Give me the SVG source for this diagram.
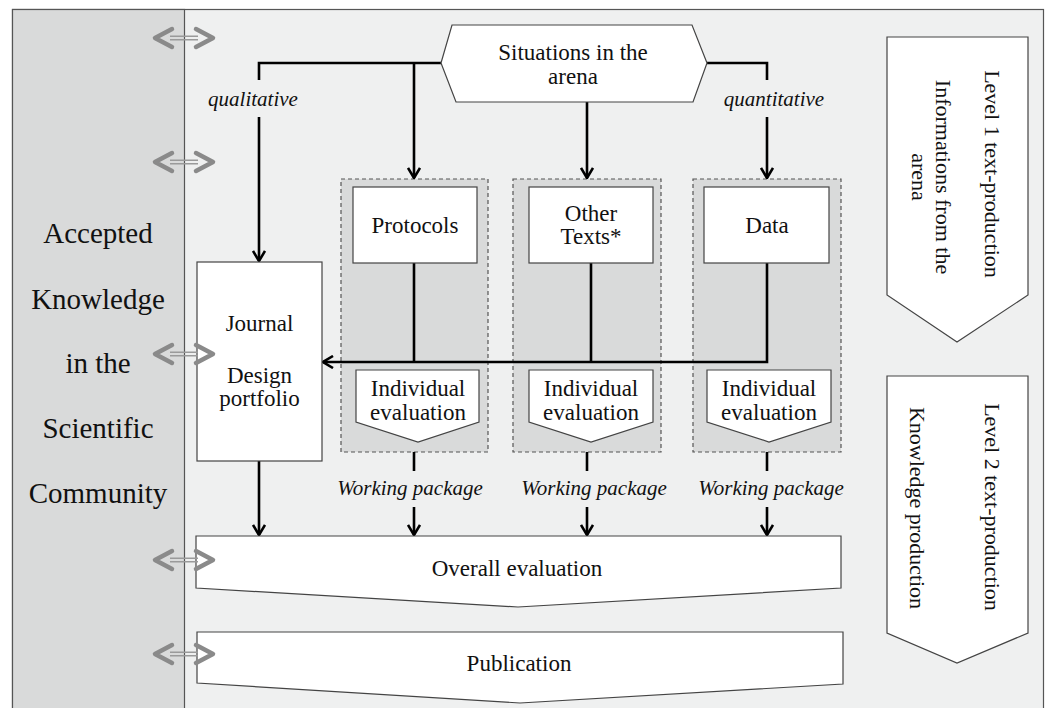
<svg xmlns="http://www.w3.org/2000/svg" width="1049" height="708" viewBox="0 0 1049 708">
<style>
.t{font-family:"Liberation Serif","Times New Roman",serif;font-size:23px;fill:#111;text-anchor:middle}
.it{font-family:"Liberation Serif","Times New Roman",serif;font-size:21px;font-style:italic;fill:#111;text-anchor:middle}
.big{font-family:"Liberation Serif","Times New Roman",serif;font-size:29px;fill:#111;text-anchor:middle}
.rt{font-family:"Liberation Serif","Times New Roman",serif;font-size:22px;fill:#111;text-anchor:middle}
.box{fill:#fff;stroke:#444;stroke-width:1.2}
.dash{fill:#d9dada;stroke:#555;stroke-width:1.2;stroke-dasharray:4 3}
.con{fill:none;stroke:#000;stroke-width:2.6}
.arr{marker-end:url(#ah)}
.dbl-l{fill:none;stroke:#9a9a9a;stroke-width:1.4}
.dbl-c{fill:none;stroke:#8a8a8a;stroke-width:4.5;stroke-linecap:round;stroke-linejoin:round}
</style>
<defs>
<marker id="ah" viewBox="0 0 12 14" refX="11" refY="7" markerWidth="12" markerHeight="14" markerUnits="userSpaceOnUse" orient="auto">
<path d="M1,1 L11,7 L1,13" fill="none" stroke="#000" stroke-width="2.6"/>
</marker>
<g id="dbl">
<path class="dbl-l" d="M-14,-1.7 H14 M-14,1.7 H14"/>
<path class="dbl-c" d="M-12,-9 L-29,0 L-12,9 M12,-9 L29,0 L12,9"/>
</g>
</defs>

<g id="background">
<rect x="12.5" y="9.5" width="1031" height="710" fill="#eff0f0" stroke="#555" stroke-width="1.2"/>
<rect x="12.5" y="9.5" width="172" height="710" fill="#d9dada" stroke="#555" stroke-width="1.2"/>
</g>

<g id="community">
<text class="big" x="98" y="243">Accepted</text>
<text class="big" x="98" y="309">Knowledge</text>
<text class="big" x="98" y="373">in the</text>
<text class="big" x="98" y="438">Scientific</text>
<text class="big" x="98" y="503">Community</text>
</g>

<g id="group-protocols"><rect class="dash" x="341" y="179" width="147" height="273"/></g>
<g id="group-other"><rect class="dash" x="513" y="179" width="148" height="273"/></g>
<g id="group-data"><rect class="dash" x="693" y="179" width="148" height="273"/></g>

<g id="connectors">
<path class="con" d="M441,63 H259 V80"/>
<path class="con arr" d="M259,117 V261"/>
<path class="con arr" d="M414,63 V178"/>
<path class="con arr" d="M587,102 V178"/>
<path class="con" d="M707,63 H767 V80"/>
<path class="con arr" d="M767,117 V178"/>
<path class="con" d="M414,263 V362"/>
<path class="con" d="M591,263 V362"/>
<path class="con arr" d="M767,263 V362 H323"/>
<path class="con" d="M414,452 V471"/>
<path class="con" d="M587,452 V471"/>
<path class="con" d="M767,452 V471"/>
<path class="con arr" d="M259,461 V535"/>
<path class="con arr" d="M414,507 V535"/>
<path class="con arr" d="M587,507 V535"/>
<path class="con arr" d="M767,507 V535"/>
<text class="it" x="253" y="106">qualitative</text>
<text class="it" x="774" y="106">quantitative</text>
<text class="it" x="410" y="495">Working package</text>
<text class="it" x="594" y="495">Working package</text>
<text class="it" x="771" y="495">Working package</text>
</g>

<g id="situations">
<polygon class="box" points="441,63 452,25 692,25 707,63 693,102 456,102"/>
<text class="t" x="573" y="60">Situations in the</text>
<text class="t" x="573" y="84">arena</text>
</g>

<g id="protocols">
<rect class="box" x="353" y="187" width="124" height="76"/>
<text class="t" x="415" y="233">Protocols</text>
</g>
<g id="other-texts">
<rect class="box" x="529" y="187" width="124" height="76"/>
<text class="t" x="591" y="221">Other</text>
<text class="t" x="591" y="244">Texts*</text>
</g>
<g id="data">
<rect class="box" x="704" y="187" width="125" height="76"/>
<text class="t" x="767" y="233">Data</text>
</g>

<g id="journal">
<rect class="box" x="197" y="262" width="125" height="199"/>
<text class="t" x="259.5" y="331">Journal</text>
<text class="t" x="259.5" y="383">Design</text>
<text class="t" x="259.5" y="406">portfolio</text>
</g>

<g id="eval-protocols">
<polygon class="box" points="356,370 479,370 479,422 418,442 356,422"/>
<text class="t" x="418" y="396">Individual</text>
<text class="t" x="418" y="420">evaluation</text>
</g>
<g id="eval-other">
<polygon class="box" points="529,370 653,370 653,422 591,442 529,422"/>
<text class="t" x="591" y="396">Individual</text>
<text class="t" x="591" y="420">evaluation</text>
</g>
<g id="eval-data">
<polygon class="box" points="707,370 831,370 831,422 769,442 707,422"/>
<text class="t" x="769" y="396">Individual</text>
<text class="t" x="769" y="420">evaluation</text>
</g>

<g id="overall-evaluation">
<polygon class="box" points="196,536 841,536 841,588 518,607 196,588"/>
<text class="t" x="517" y="576">Overall evaluation</text>
</g>
<g id="publication">
<polygon class="box" points="197,632 843,632 843,684 520,703 197,683"/>
<text class="t" x="519" y="671">Publication</text>
</g>

<g id="level1">
<polygon class="box" points="887,37 1028,37 1028,295 957,342 887,295"/>
<text class="rt" transform="translate(985,174) rotate(90)">Level 1 text-production</text>
<text class="rt" transform="translate(936,177) rotate(90)">Informations from the</text>
<text class="rt" transform="translate(912,177) rotate(90)">arena</text>
</g>
<g id="level2">
<polygon class="box" points="887,376 1028,376 1028,633 957,663 887,633"/>
<text class="rt" transform="translate(985,507) rotate(90)">Level 2 text-production</text>
<text class="rt" transform="translate(910,508) rotate(90)">Knowledge production</text>
</g>

<g id="exchange-arrows">
<use href="#dbl" x="184" y="38"/>
<use href="#dbl" x="184" y="162"/>
<use href="#dbl" x="184" y="354"/>
<use href="#dbl" x="184" y="560"/>
<use href="#dbl" x="184" y="654"/>
</g>
</svg>
